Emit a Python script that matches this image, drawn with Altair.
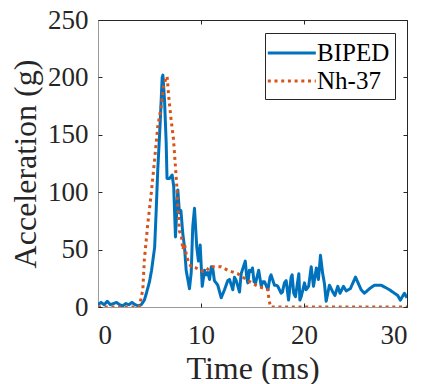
import altair as alt
import pandas as pd

# ---- data ----
series_names = ["BIPED", "Nh-37"]
colors = ["#0072BD", "#D95319"]

biped_t = [0.0, 0.3, 0.6, 0.9, 1.2, 1.5, 1.8, 2.1, 2.4, 2.7, 3.0, 3.3, 3.6, 3.9, 4.2, 4.5,
           4.7, 5.0, 5.2, 5.5, 5.65, 5.8, 6.05, 6.23, 6.3, 6.46, 6.62, 6.7, 6.95, 7.2, 7.35,
           7.52, 7.75, 7.91, 8.05, 8.23, 8.4, 8.56, 8.88, 9.05, 9.2, 9.37, 9.59, 9.75, 9.92,
           10.12, 10.34, 10.5, 10.66, 10.83, 11.0, 11.15, 11.3, 11.63, 11.96, 12.28, 12.6,
           12.77, 13.09, 13.25, 13.42, 13.74, 13.9, 14.3, 14.45, 14.55, 14.7, 14.87, 15.0,
           15.15, 15.3, 15.6, 15.85, 16.0, 16.17, 16.5, 16.7, 16.8, 17.13, 17.3, 17.46, 17.78,
           17.9, 18.1, 18.27, 18.5, 18.75, 18.85, 19.0, 19.17, 19.5, 19.6, 19.73, 20.05, 20.2,
           20.45, 20.7, 20.92, 21.2, 21.4, 21.6, 21.8, 21.99, 22.15, 22.47, 22.8, 23.0, 23.28,
           23.5, 23.83, 24.1, 24.5, 25.0, 25.3, 25.55, 25.87, 26.36, 26.84, 27.5, 28.3, 29.1,
           29.35, 29.75, 30.0]
biped_a = [2, 4, 2, 5, 2, 3, 4, 2, 1, 3, 2, 4, 2, 1, 2, 6,
           12, 22, 32, 52, 84, 119, 163, 200, 202, 180, 143, 112, 112, 115, 105,
           61, 102, 82, 84, 64, 52, 32, 16, 30, 70, 86, 52, 40, 54,
           18, 32, 28, 30, 24, 35, 33, 23, 19, 8, 15, 23,
           24, 15, 26, 23, 13, 29, 40, 25, 21, 32, 31, 34,
           22, 21, 32, 18, 22, 22, 15, 26, 28, 19, 19, 18, 12,
           13, 21, 23, 6, 26, 28, 12, 9, 29, 6, 9, 21, 15,
           18, 35, 18, 34, 24, 45, 30, 20, 5, 19, 13, 10, 18,
           12, 18, 14, 16, 26, 20, 15, 12, 16, 19, 19, 15, 10,
           6, 12, 8]

nh_t = [0.0, 4.0, 4.35, 4.5, 4.84, 5.17, 5.49, 5.8, 6.14, 6.36, 6.62, 6.71, 6.87, 7.1,
        7.33, 7.52, 7.65, 7.75, 7.91, 8.1, 8.23, 8.4, 8.6, 8.8, 9.05, 9.53, 10.18, 10.5,
        10.83, 11.48, 11.96, 12.6, 13.57, 14.55, 15.5, 16.5, 16.6, 16.76, 30.0]
nh_a = [0, 0, 15, 41, 73, 99, 128, 157, 175, 192, 200, 201, 183, 163,
        146, 122, 105, 87, 66, 62, 50, 55, 44, 39, 35, 34, 31, 31,
        35, 35, 35, 32, 29, 23, 18, 15, 6, 0, 0]

x_ticks = [0, 10, 20, 30]
y_ticks = [0, 50, 100, 150, 200, 250]

df = pd.concat([
    pd.DataFrame({"t": biped_t, "a": biped_a, "s": series_names[0], "o": range(len(biped_t))}),
    pd.DataFrame({"t": nh_t, "a": nh_a, "s": series_names[1], "o": range(len(nh_t))}),
], ignore_index=True)

FONT = "Liberation Serif"
INK = "#262626"
LIGHT = "#9a9a9a"

x_scale = alt.Scale(domain=[0, 30], nice=False, zero=False)
y_scale = alt.Scale(domain=[0, 250], nice=False, zero=False)

legend_kw = dict(
    title=None, orient="none", legendX=167, legendY=13,
    strokeColor=INK, fillColor="white", padding=5,
    labelFont=FONT, labelFontSize=25, labelColor="black",
    symbolType="M-1.3,0H2.33", symbolSize=700, symbolStrokeWidth=2.8,
    labelOffset=17, rowPadding=-7,
)

axis_common = dict(tickSize=4, domain=False, grid=False, tickColor=INK, tickWidth=1,
                   labelFont=FONT, labelFontSize=27, labelColor=INK,
                   titleFont=FONT, titleFontSize=32, titleColor=INK,
                   titleFontWeight="normal")

lines = alt.Chart(df).mark_line(strokeWidth=3, strokeCap="butt", strokeJoin="round",
                                clip=True).encode(
    x=alt.X("t:Q", scale=x_scale,
            axis=alt.Axis(values=x_ticks, title="Time (ms)", orient="bottom", offset=-4,
                          labelPadding=15, titlePadding=5, **axis_common)),
    y=alt.Y("a:Q", scale=y_scale,
            axis=alt.Axis(values=y_ticks, title="Acceleration (g)", orient="left", offset=-4,
                          labelPadding=10, titlePadding=5, **axis_common)),
    color=alt.Color("s:N", scale=alt.Scale(domain=series_names, range=colors),
                    legend=alt.Legend(**legend_kw)),
    strokeDash=alt.StrokeDash("s:N", scale=alt.Scale(domain=series_names,
                                                      range=[[1, 0], [3, 3.7]]),
                              legend=alt.Legend(**legend_kw)),
    order="o:Q",
)

# inward ticks on the top and right edges
mirror = alt.Chart(df).mark_point(opacity=0).encode(
    x=alt.X("t:Q", scale=x_scale,
            axis=alt.Axis(values=x_ticks, orient="top", labels=False, title=None, offset=-4,
                          **axis_common)),
    y=alt.Y("a:Q", scale=y_scale,
            axis=alt.Axis(values=y_ticks, orient="right", labels=False, title=None, offset=-4,
                          **axis_common)),
)

# box edges: light bottom/left, dark top/right
edge_common = dict(ticks=False, labels=False, title=None, grid=False, domain=True,
                   domainWidth=1, offset=0)
edges_bl = alt.Chart(df).mark_point(opacity=0).encode(
    x=alt.X("t:Q", scale=x_scale,
            axis=alt.Axis(orient="bottom", domainColor=LIGHT, **edge_common)),
    y=alt.Y("a:Q", scale=y_scale,
            axis=alt.Axis(orient="left", domainColor=LIGHT, **edge_common)),
)
edges_tr = alt.Chart(df).mark_point(opacity=0).encode(
    x=alt.X("t:Q", scale=x_scale,
            axis=alt.Axis(orient="top", domainColor=INK, **edge_common)),
    y=alt.Y("a:Q", scale=y_scale,
            axis=alt.Axis(orient="right", domainColor=INK, **edge_common)),
)

chart = alt.layer(edges_bl, edges_tr, lines, mirror).resolve_axis(
    x="independent", y="independent"
).properties(
    width=309, height=287,
    autosize=alt.AutoSizeParams(type="none"),
    padding={"left": 98, "top": 20, "right": 14, "bottom": 77},
    background="white",
).configure_view(
    stroke=None,
)

chart.save("out.html", embed_options={"renderer": "svg", "actions": False})
